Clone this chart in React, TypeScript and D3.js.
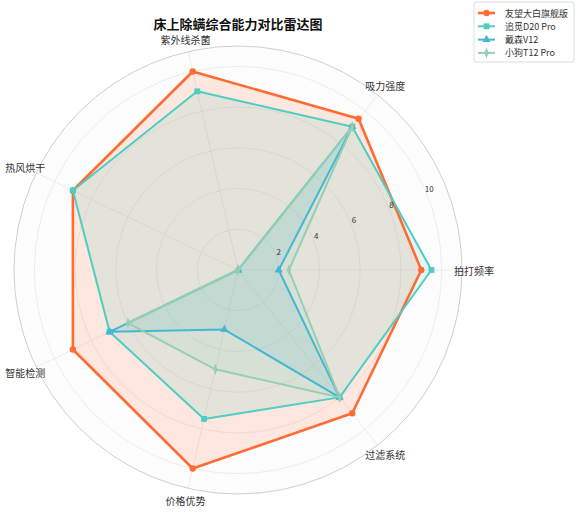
import React from "react";
import * as d3 from "d3";

const categories = ["拍打频率", "吸力强度", "紫外线杀菌", "热风烘干", "智能检测", "价格优势", "过滤系统"];
const seriesNames = ["友望大白旗舰版", "追觅D20 Pro", "戴森V12", "小狗T12 Pro"];
const youwang = [9, 9.5, 10, 9, 9, 10, 9];
const zhuimi = [9.5, 9, 9, 9, 7, 7.5, 8];
const dyson = [2, 9, 0, 0, 7, 3, 8];
const xiaogou = [2.5, 9, 0, 0, 6, 5, 8];
const seriesValues = [youwang, zhuimi, dyson, xiaogou];
const colors = ["#FF6B35", "#4ECDC4", "#45B7D1", "#96CEB4"];
const radialTicks = [2, 4, 6, 8, 10];
const title = "床上除螨综合能力对比雷达图";

const W = 576, H = 512;
const cx = 238, cy = 270;
const font = "'Noto Sans CJK SC', 'DejaVu Sans', sans-serif";

export default function App() {
  const r = d3.scaleLinear().domain([0, 11]).range([0, 224]);
  const n = categories.length;
  const theta = d3.scaleLinear().domain([0, n]).range([0, 2 * Math.PI]); // math angle, ccw from east
  const px = (i: number, v: number) => cx + r(v) * Math.cos(theta(i));
  const py = (i: number, v: number) => cy - r(v) * Math.sin(theta(i));
  const line = d3
    .lineRadial<number>()
    .angle((_, i) => Math.PI / 2 - theta(i))
    .radius((v) => r(v))
    .curve(d3.curveLinearClosed);
  const symbols = [d3.symbolCircle, d3.symbolSquare, d3.symbolTriangle, d3.symbolDiamond];
  const symSizes = [32, 34, 30, 40];
  const widths = [2.6, 2, 2, 2];

  const legendX = 474, legendY = 2;

  return (
    <svg width={W} height={H} style={{ position: "absolute", left: 0, top: 0, background: "#fff" }} fontFamily={font}>
      <circle cx={cx} cy={cy} r={r(11)} fill="#fdfdfd" />
      {radialTicks.map((t) => (
        <circle key={t} cx={cx} cy={cy} r={r(t)} fill="none" stroke="#e8e8e8" strokeWidth={0.8} />
      ))}
      {categories.map((c, i) => (
        <line key={c} x1={cx} y1={cy} x2={px(i, 11)} y2={py(i, 11)} stroke="#e8e8e8" strokeWidth={0.8} />
      ))}
      <circle cx={cx} cy={cy} r={r(11)} fill="none" stroke="#cfcfcf" strokeWidth={1} />
      {seriesValues.map((vals, s) => (
        <path key={"f" + s} d={line(vals) || ""} transform={`translate(${cx},${cy})`} fill={colors[s]} fillOpacity={0.15} stroke="none" />
      ))}
      {seriesValues.map((vals, s) => (
        <g key={"s" + s}>
          <path d={line(vals) || ""} transform={`translate(${cx},${cy})`} fill="none" stroke={colors[s]} strokeWidth={widths[s]} strokeLinejoin="round" />
          {vals.map((v, i) => (
            <path
              key={i}
              d={d3.symbol().type(symbols[s]).size(symSizes[s])() || ""}
              transform={`translate(${px(i, v)},${py(i, v)})${s === 3 ? " scale(0.6,1)" : ""}`}
              fill={colors[s]}
            />
          ))}
        </g>
      ))}
      {radialTicks.map((t) => (
        <text
          key={"rt" + t}
          x={cx + r(t) * Math.cos(Math.PI / 8) + 3}
          y={cy - r(t) * Math.sin(Math.PI / 8) - 2}
          fontSize={8}
          fill="#333"
          textAnchor="middle"
          dominantBaseline="middle"
        >
          {t}
        </text>
      ))}
      {categories.map((c, i) => (
        <text
          key={"l" + c}
          x={cx + 236 * Math.cos(theta(i))}
          y={cy - 236 * Math.sin(theta(i))}
          fontSize={10}
          fill="#333"
          textAnchor="middle"
          dominantBaseline="central"
        >
          {c}
        </text>
      ))}
      <text x={238} y={23} fontSize={13} fontWeight="bold" textAnchor="middle" dominantBaseline="central" fill="#111">
        {title}
      </text>
      <rect x={legendX} y={legendY} width={100} height={60} rx={2} fill="#fff" fillOpacity={0.9} stroke="#d6d6d6" strokeWidth={0.8} />
      {seriesNames.map((name, s) => {
        const y = legendY + 11 + s * 13.3;
        return (
          <g key={"lg" + s}>
            <line x1={legendX + 4} x2={legendX + 21} y1={y} y2={y} stroke={colors[s]} strokeWidth={widths[s]} />
            <path
              d={d3.symbol().type(symbols[s]).size(symSizes[s])() || ""}
              transform={`translate(${legendX + 12.5},${y})${s === 3 ? " scale(0.6,1)" : ""}`}
              fill={colors[s]}
            />
            <text x={legendX + 31} y={y} fontSize={9} fill="#333" dominantBaseline="central">
              {name}
            </text>
          </g>
        );
      })}
    </svg>
  );
}
